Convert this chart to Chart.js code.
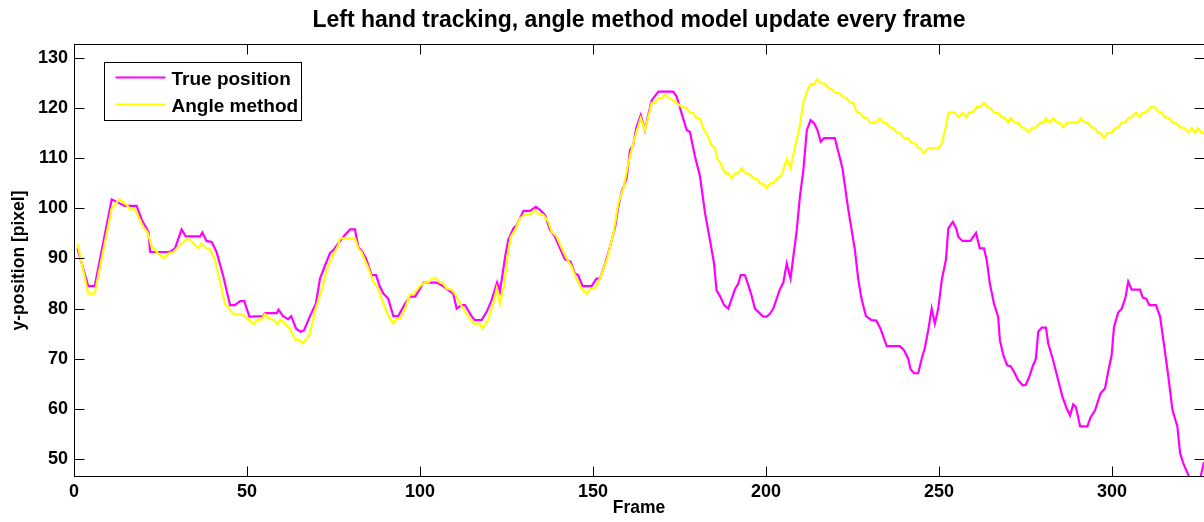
<!DOCTYPE html>
<html>
<head>
<meta charset="utf-8">
<script src="https://cdn.jsdelivr.net/npm/chart.js@4.4.1/dist/chart.umd.min.js"></script>
<style>
html,body{margin:0;padding:0;background:#fff;overflow:hidden}
#wrap{width:1204px;height:522px;position:relative}
</style>
</head>
<body>
<div id="wrap"><canvas id="c"></canvas></div>
<script>
const chartTitle = 'Left hand tracking, angle method model update every frame';
const xAxisTitle = 'Frame';
const yAxisTitle = 'y-position [pixel]';
const seriesNames = ['True position', 'Angle method'];
const xTicks = [0, 50, 100, 150, 200, 250, 300];
const yTicks = [50, 60, 70, 80, 90, 100, 110, 120, 130];

const trueFrames = [1,4.1,6.0,10.9,12.9,14.7,18.1,19.6,21.5,22.0,27.7,29.2,31.1,32.3,36.4,37.1,38.3,39.8,41.2,43.2,45.1,46.5,48.0,49.2,50.7,54.7,55.2,58.6,59.1,60.4,61.9,62.8,64.2,65.5,66.5,68.2,69.9,71.1,72.5,74.0,74.9,76.7,78.3,79.8,81.2,82.2,83.1,84.4,86.0,87.3,88.4,89.4,90.8,92.3,93.7,95.7,97.1,98.6,100.0,101.0,104.8,106.7,108.2,109.6,110.6,112.0,113.0,114.9,115.9,117.8,119.3,120.7,122.3,123.1,124.6,125.5,127.0,128.0,129.9,131.8,133.5,134.7,136.1,137.6,139.0,140.5,141.9,143.5,144.8,145.7,147.0,149.6,151.0,152.0,153.5,154.9,156.4,157.3,158.3,159.7,160.7,161.6,162.6,163.8,165.0,165.9,167.0,168.9,173.2,174.2,175.6,177.1,178.0,179.5,180.9,182.4,183.8,185.0,185.7,186.7,187.9,189.1,190.1,191.0,192.0,192.7,193.9,194.9,195.8,196.8,198.3,199.2,200.2,201.2,202.1,203.1,204.0,205.0,206.0,207.1,207.9,208.9,209.8,210.8,211.8,212.9,213.9,214.9,215.8,216.8,219.9,220.9,222.1,223.8,225.7,226.7,227.6,228.9,230.5,231.9,233.1,234.9,238.7,239.9,241.1,241.8,242.8,244.0,245.0,245.9,246.9,247.9,248.8,249.8,250.8,252.0,252.7,254.0,255.0,255.6,256.8,259.1,260.7,261.8,263.0,263.8,264.7,265.9,267.1,267.6,268.6,269.7,270.7,271.7,272.9,274.2,275.1,276.1,277.1,278.0,278.7,279.7,280.9,281.6,283.0,284.2,285.7,286.9,287.9,288.8,289.6,290.8,292.9,293.8,295.1,296.7,298.0,298.9,299.9,300.6,301.8,302.8,303.9,304.7,305.7,308.1,308.9,309.9,310.8,312.7,313.9,315.0,316.3,317.5,318.9,319.7,320.8,322.3,323.5,324.5,325.6,326.6,327.5];
const trueValues = [92.0,84.5,84.5,101.8,101.1,100.5,100.5,97.7,95.3,91.3,91.3,92.0,95.8,94.4,94.4,95.2,93.5,93.3,91.3,86.3,80.7,80.7,81.5,81.5,78.4,78.5,79.1,79.1,79.8,78.5,77.9,78.5,76.0,75.4,75.7,78.5,81.0,86.0,88.5,91.1,91.6,93.3,94.7,95.8,95.8,92.2,91.6,90.0,86.7,86.7,84.4,83.0,82.0,78.5,78.5,81.0,82.4,82.4,84.0,85.2,85.2,84.5,83.7,83.0,80.0,80.7,80.7,78.5,77.7,77.7,79.4,81.7,85.2,83.4,90.3,93.7,96.0,96.7,99.5,99.5,100.3,99.7,98.7,95.7,94.4,92.0,89.8,89.4,87.0,86.7,84.5,84.5,86.0,86.0,89.0,92.3,96.3,100.3,103.3,106.0,111.6,112.6,116.3,118.6,115.6,118.4,121.6,123.3,123.3,122.3,119.0,115.6,115.3,110.3,106.5,99.0,93.7,89.0,83.7,82.5,80.7,80.0,82.0,83.8,85.0,86.7,86.7,84.7,82.7,80.0,79.0,78.4,78.4,79.0,80.0,82.0,83.8,85.2,89.0,86.0,90.3,95.7,102.3,107.6,115.6,117.6,117.0,115.6,113.3,114.0,114.0,111.3,108.0,99.7,91.7,85.7,82.0,78.5,77.7,77.6,76.0,72.5,72.5,71.7,70.0,67.9,67.1,67.1,70.0,72.1,75.7,80.0,77.0,80.0,85.7,89.7,96.0,97.3,96.0,94.3,93.5,93.5,95.1,92.0,92.0,89.7,85.0,81.0,78.4,73.7,70.7,68.7,68.5,67.4,65.7,64.7,64.8,66.4,68.5,70.0,75.4,76.2,76.2,73.0,69.7,66.4,62.4,60.1,58.7,60.9,60.3,56.5,56.5,58.3,59.7,63.1,64.1,67.4,70.7,76.4,79.2,80.0,82.2,85.4,83.8,83.8,82.2,82.0,80.7,80.7,78.4,73.0,66.4,59.7,56.5,51.1,48.8,46.4,44.6,44.6,46.4,49.4,52.0];

const angleFrames = [1,4.1,6.0,10.9,13.1,15.2,16.2,17.6,20.0,21.2,22.4,23.9,26.0,27.2,28.7,31.1,33.0,34.5,35.9,36.8,38.3,39.3,40.8,43.6,46.1,48.5,50.4,52.0,53.0,54.3,55.2,56.4,57.7,58.8,59.6,61.0,62.4,63.9,64.8,66.1,67.3,68.2,69.7,71.6,73.0,74.9,76.4,76.9,81.2,82.2,83.1,85.1,86.5,87.9,89.4,90.8,92.3,93.2,94.2,95.7,97.1,98.1,100.0,101.2,102.4,103.4,104.8,105.8,106.7,107.7,109.1,110.1,111.6,113.0,114.5,115.6,117.3,118.1,119.7,121.2,122.2,123.1,124.3,125.3,126.2,127.5,128.9,130.3,131.8,133.2,134.2,135.6,137.1,138.1,139.5,141.0,142.4,143.9,145.3,146.7,148.2,149.3,150.6,152.0,154.0,155.9,157.3,158.8,160.2,161.4,162.6,163.8,165.0,165.9,167.0,167.9,168.9,169.9,170.8,171.8,172.7,174.2,175.6,177.1,178.0,179.0,179.9,180.9,181.9,183.3,184.3,185.3,185.9,187.2,188.2,189.1,190.1,191.1,192.0,193.0,194.0,195.2,196.4,197.3,198.3,199.2,200.2,201.2,202.1,203.3,204.5,206.0,207.1,208.4,209.8,210.8,211.8,212.9,213.9,214.9,215.8,217.1,218.0,219.0,219.9,221.2,222.3,223.3,224.3,225.2,226.2,227.2,228.1,229.1,230.1,231.8,232.9,233.9,234.8,235.8,236.8,237.8,238.7,239.9,241.1,242.1,243.1,244.0,244.7,245.7,246.9,249.8,250.8,251.4,252.0,252.7,254.6,255.6,256.9,257.9,258.8,260.0,260.9,261.9,263.0,264.0,264.9,265.9,267.1,268.1,269.1,270.0,270.7,272.0,272.9,273.9,274.9,275.8,276.8,278.2,279.2,280.1,280.9,282.1,283.0,284.2,285.1,285.9,287.1,290.3,290.9,292.2,293.1,294.1,295.0,296.0,296.7,297.7,298.6,299.9,300.9,301.9,302.8,303.8,304.7,305.7,306.9,307.9,308.9,310.1,311.2,312.4,313.4,314.4,315.3,316.6,317.5,318.6,319.7,321.1,322.1,323.1,324.0,324.9,325.9,327.0];
const angleValues = [93.0,83.0,83.0,100.0,101.8,100.7,99.8,99.8,96.3,95.3,92.5,91.3,90.0,91.0,91.3,93.0,94.0,93.1,92.0,93.0,92.0,91.8,89.7,81.0,78.9,78.9,77.8,76.9,77.8,77.8,78.9,78.0,77.8,76.9,77.8,77.0,76.0,73.8,73.8,73.1,74.0,75.0,79.7,83.7,87.7,90.7,92.7,94.0,94.0,92.0,91.3,88.0,85.4,84.0,81.0,78.7,77.0,78.0,78.0,80.0,82.9,82.9,84.5,85.2,85.2,86.0,86.0,85.2,85.1,84.0,83.8,83.0,81.0,79.4,78.0,77.0,77.0,76.0,77.8,81.0,84.0,81.0,84.6,90.3,94.3,95.7,98.0,98.8,98.8,99.7,98.8,98.7,97.3,95.3,94.4,92.0,90.0,88.3,85.8,84.0,83.0,84.0,84.0,86.0,89.7,95.0,101.0,104.0,109.0,112.3,115.3,118.0,115.6,118.0,121.0,121.0,122.0,122.0,122.8,122.0,121.8,121.0,120.3,120.0,119.1,119.0,118.0,117.9,116.0,114.2,112.6,112.0,110.0,108.6,107.0,107.0,106.0,107.0,107.0,108.0,107.0,106.9,106.0,105.8,105.0,104.9,104.0,105.0,105.0,106.0,106.6,109.8,108.0,112.3,116.6,121.0,123.3,124.8,124.8,125.8,125.0,124.8,124.0,123.8,123.1,123.0,122.2,122.0,121.1,121.1,119.3,119.0,118.2,118.0,117.1,117.1,118.0,117.1,117.0,116.2,116.0,115.1,115.0,114.0,114.0,113.0,113.0,112.0,112.0,111.0,112.0,112.0,113.0,114.6,116.3,119.1,119.1,118.2,119.1,118.2,119.1,119.3,120.2,120.2,121.1,120.2,120.0,119.1,119.0,118.2,118.0,117.1,118.0,117.1,117.0,116.2,116.0,115.1,116.0,116.2,117.1,117.0,118.0,117.1,118.0,117.1,117.0,116.2,117.1,117.1,118.0,117.1,117.0,116.2,116.0,115.1,115.0,114.0,115.0,115.1,116.0,116.2,117.1,117.1,118.0,118.2,119.1,118.2,119.1,119.3,120.2,120.2,119.3,119.1,118.2,118.0,117.1,117.0,116.2,116.0,115.1,116.0,115.1,116.0,115.0,115.0];

const seriesColors = ['#ff00ff', '#ffff00'];
const FONT = '"Liberation Sans", Arial, Helvetica, sans-serif';

function pts(fr, vals) { return fr.map((f, i) => ({x: f, y: vals[i]})); }

const axesBox = {
  id: 'axesBox',
  afterDatasetsDraw(chart) {
    const {ctx, chartArea: a, scales} = chart;
    const xs = scales.x, ys = scales.y;
    ctx.save();
    ctx.strokeStyle = '#000';
    ctx.lineWidth = 1;
    const L = Math.round(a.left) + 0.5, R = Math.round(a.right) + 0.5;
    const T = Math.round(a.top) + 0.5, B = Math.round(a.bottom) - 0.5;
    ctx.strokeRect(L, T, R - L, B - T);
    const len = 10;
    ctx.beginPath();
    xs.ticks.forEach(t => {
      const px = Math.round(xs.getPixelForValue(t.value)) + 0.5;
      ctx.moveTo(px, B); ctx.lineTo(px, B - len);
      ctx.moveTo(px, T); ctx.lineTo(px, T + len);
    });
    ys.ticks.forEach(t => {
      const py = Math.round(ys.getPixelForValue(t.value)) + 0.5;
      ctx.moveTo(L, py); ctx.lineTo(L + len, py);
      ctx.moveTo(R, py); ctx.lineTo(R - len, py);
    });
    ctx.stroke();

    // legend box
    const bx = Math.round(a.left) + 30.5, by = Math.round(a.top) + 18.5;
    const bw = 197, bh = 58;
    ctx.fillStyle = '#fff';
    ctx.fillRect(bx, by, bw, bh);
    ctx.strokeRect(bx, by, bw, bh);
    ctx.font = 'bold 19px ' + FONT;
    ctx.textBaseline = 'alphabetic';
    ctx.textAlign = 'left';
    chart.data.datasets.forEach((ds, i) => {
      const ly = by + 15 + i * 27;
      ctx.strokeStyle = ds.borderColor;
      ctx.lineWidth = 2.2;
      ctx.beginPath();
      ctx.moveTo(bx + 11, ly); ctx.lineTo(bx + 61, ly);
      ctx.stroke();
      ctx.fillStyle = '#000';
      ctx.fillText(ds.label, bx + 67, ly + 7.5);
    });
    ctx.restore();
  }
};

new Chart(document.getElementById('c'), {
  type: 'line',
  data: {
    datasets: [
      {label: seriesNames[0], data: pts(trueFrames, trueValues), borderColor: seriesColors[0], backgroundColor: seriesColors[0], borderWidth: 2.2, pointRadius: 0, tension: 0, fill: false, order: 1},
      {label: seriesNames[1], data: pts(angleFrames, angleValues), borderColor: seriesColors[1], backgroundColor: seriesColors[1], borderWidth: 2.2, pointRadius: 0, tension: 0, fill: false, order: 0}
    ]
  },
  options: {
    responsive: true,
    maintainAspectRatio: false,
    animation: false,
    parsing: true,
    layout: {padding: {left: 0, right: 0, top: 0, bottom: 0}},
    plugins: {
      legend: {display: false},
      tooltip: {enabled: false},
      title: {
        display: true, text: chartTitle, fullSize: false, color: '#000',
        font: {family: FONT, size: 23, weight: 'bold', lineHeight: 1.2},
        padding: {top: 7, bottom: 9.4}
      }
    },
    scales: {
      x: {
        type: 'linear', position: 'bottom', min: 0, max: 326.6,
        grid: {display: false, drawTicks: false},
        border: {display: false},
        afterBuildTicks: s => { s.ticks = xTicks.map(v => ({value: v})); },
        afterFit: s => { s.height = 45; },
        ticks: {autoSkip: false, maxRotation: 0, padding: 4, color: '#000', font: {family: FONT, size: 18, weight: 'bold'}},
        title: {display: true, text: xAxisTitle, color: '#000', font: {family: FONT, size: 17.5, weight: 'bold', lineHeight: 1.2}, padding: {top: 0, bottom: 3.5}}
      },
      y: {
        type: 'linear', position: 'left', min: 46.4, max: 132.8,
        grid: {display: false, drawTicks: false},
        border: {display: false},
        afterBuildTicks: s => { s.ticks = yTicks.map(v => ({value: v})); },
        afterFit: s => { s.width = 74; },
        ticks: {autoSkip: false, padding: 6, color: '#000', font: {family: FONT, size: 18, weight: 'bold'}},
        title: {display: true, text: yAxisTitle, color: '#000', font: {family: FONT, size: 17.5, weight: 'bold', lineHeight: 1.2}, padding: {top: 9, bottom: 0}}
      }
    }
  },
  plugins: [axesBox]
});
</script>
</body>
</html>
